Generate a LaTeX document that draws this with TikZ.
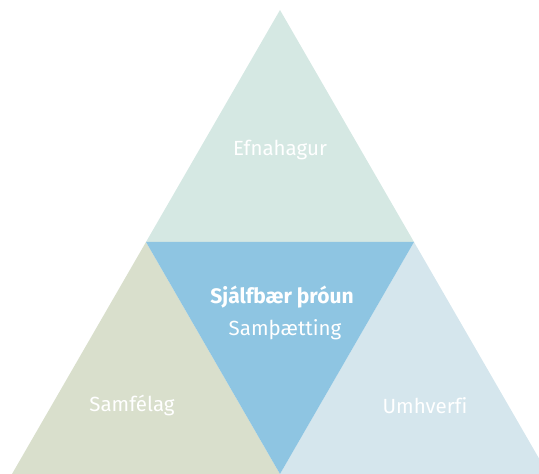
\documentclass[tikz,border=0pt]{standalone}
\usepackage{fontspec}
\setmainfont[Ligatures=NoCommon]{Fira Sans}
\usepackage{tikz}
\usetikzlibrary{positioning}

\definecolor{econ}{HTML}{D5E8E3}
\definecolor{soc}{HTML}{D9DFCC}
\definecolor{env}{HTML}{D5E6ED}
\definecolor{core}{HTML}{8EC5E2}

\begin{document}
\begin{tikzpicture}[x=1pt, y=1pt, every node/.style={text=white, font=\fontsize{20.5}{22}\selectfont, inner sep=0pt}]
        \useasboundingbox (0,0) rectangle (539,474);
        \clip (0,0) rectangle (539,474);

        % Corners
        \coordinate (top) at (280,464);
        \coordinate (bl) at (12,0);
        \coordinate (br) at (548,0);
        \coordinate (ml) at (146,232);
        \coordinate (mr) at (414,232);
        \coordinate (bm) at (280,0);

        % Triangles
        \fill[econ] (top) -- (ml) -- (mr) -- cycle;
        \fill[soc] (ml) -- (bl) -- (bm) -- cycle;
        \fill[env] (mr) -- (bm) -- (br) -- cycle;
        \fill[core] (ml) -- (mr) -- (bm) -- cycle;

        % Labels
        \node (econtext) at (280,324) {Efnahagur};
        \node[font=\bfseries\fontsize{21}{23}\selectfont] (coretext) at (282,177) {Sjálfbær þróun};
        \node (inttext) at (285,144) {Samþætting};
        \node (soctext) at (132,69) {Samfélag};
        \node (envtext) at (425,68) {Umhverfi};
    \end{tikzpicture}
\end{document}
